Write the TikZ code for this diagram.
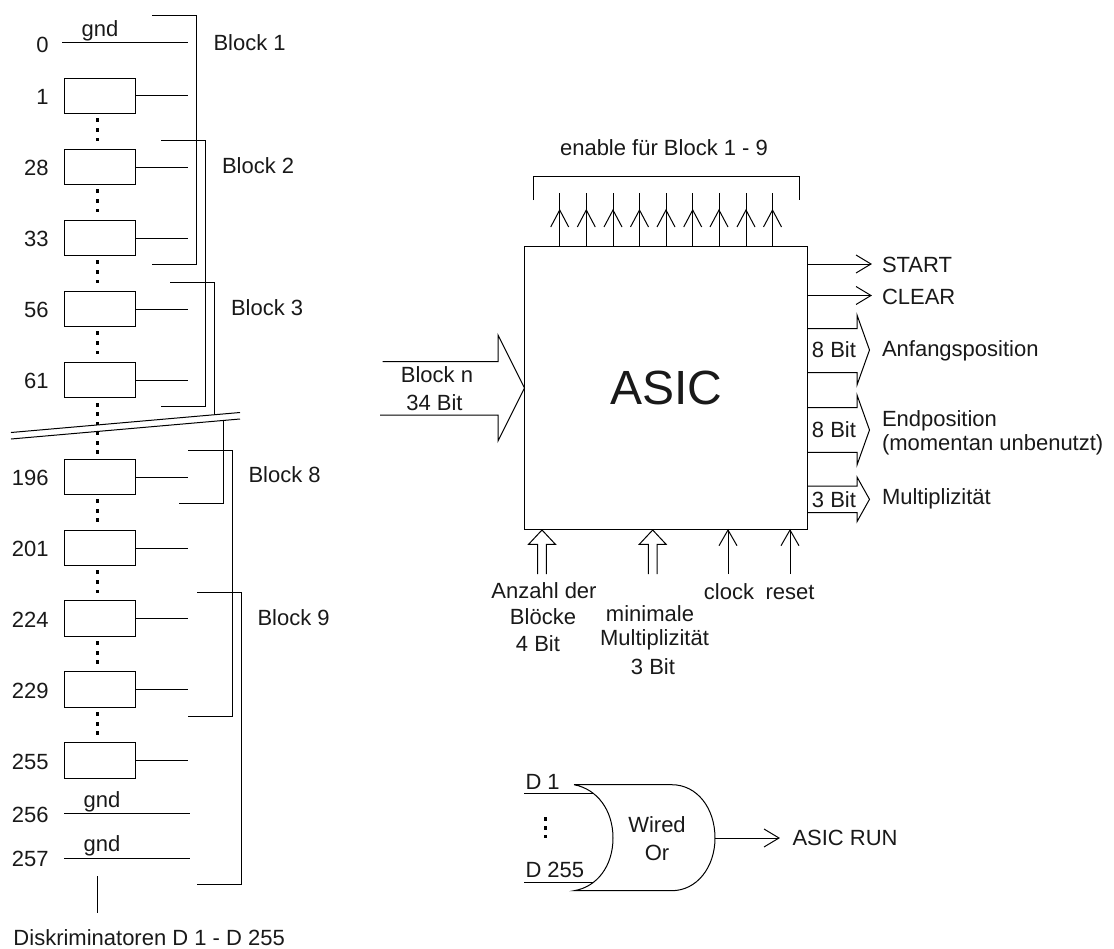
\documentclass[tikz,border=0pt]{standalone}
\usepackage{fontspec}
\setmainfont{Liberation Sans}
\begin{document}
\begin{tikzpicture}[x=0.75pt,y=-0.75pt,line width=0.75pt,
  txt/.style={font=\fontsize{16.5}{19}\selectfont,inner sep=0pt,text=black!90},
  num/.style={txt,anchor=east},
  lab/.style={txt,anchor=west},
  disc/.style={draw,minimum width=53.25pt,minimum height=26.5pt,inner sep=0pt,outer sep=0pt},
  dotm/.style={fill,minimum size=2.6pt,inner sep=0pt,draw=none}]
\useasboundingbox (0,0) rectangle (1114,949);
% ---- discriminator column
\foreach \n/\y in {1/96,28/167,33/238,56/309,61/380,196/477,201/548,224/618.5,229/689.5,255/760.5}{
  \node[disc] (b\n) at (99.5,\y) {};
  \coordinate (s\n) at (188,\y);
  \draw (b\n.east) -- (s\n);
  \node[num] (l\n) at (49,\y+1) {\n};
}
\foreach \y in {120,130,139.5, 191,201,210.5, 262,272,281.5, 333,343,352.5, 405,414,423.5,433.5,443,452, 501,511,520, 572,582,591.5, 643,653,662, 714,724,733}{
  \node[dotm] at (97.5,\y) {};
}
\node[num] (l0) at (49,44.5) {0};
\coordinate (g0a) at (62,43); \coordinate (g0b) at (188,43);
\draw (g0a) -- (g0b);
\node[txt] (g0) at (100,31) {gnd};
\node[num] (l256) at (49,815) {256};
\coordinate (g1a) at (64,813); \coordinate (g1b) at (190,813);
\draw (g1a) -- (g1b);
\node[txt] (g1) at (102,802) {gnd};
\node[num] (l257) at (49,859) {257};
\coordinate (g2a) at (64,858); \coordinate (g2b) at (190,858);
\draw (g2a) -- (g2b);
\node[txt] (g2) at (102,846) {gnd};
\coordinate (v1) at (97,876); \coordinate (v2) at (97,913);
\draw (v1) -- (v2);
\node[txt,anchor=west] (disk) at (13,938) {Diskriminatoren D 1 - D 255};
% brackets
\coordinate (k1a) at (152,16); \coordinate (k1b) at (196.5,16); \coordinate (k1c) at (196.5,264); \coordinate (k1d) at (152,264);
\draw (k1a) -- (k1b) -- (k1c) -- (k1d);
\coordinate (k2a) at (161,140); \coordinate (k2b) at (205.5,140); \coordinate (k2c) at (205.5,406); \coordinate (k2d) at (161,406);
\draw (k2a) -- (k2b) -- (k2c) -- (k2d);
\coordinate (k3a) at (170,282); \coordinate (k3b) at (214,282); \coordinate (k3c) at (214,414.5);
\draw (k3a) -- (k3b) -- (k3c);
\coordinate (k4a) at (223,421); \coordinate (k4b) at (223,503); \coordinate (k4c) at (179,503);
\draw (k4a) -- (k4b) -- (k4c);
\coordinate (k5a) at (188,450); \coordinate (k5b) at (232,450); \coordinate (k5c) at (232,716); \coordinate (k5d) at (188,716);
\draw (k5a) -- (k5b) -- (k5c) -- (k5d);
\coordinate (k6a) at (197,592); \coordinate (k6b) at (241,592); \coordinate (k6c) at (241,884); \coordinate (k6d) at (197,884);
\draw (k6a) -- (k6b) -- (k6c) -- (k6d);
\coordinate (c1a) at (11,432.5); \coordinate (c1b) at (240,412.5);
\coordinate (c2a) at (11,439); \coordinate (c2b) at (240,419);
\draw (c1a) -- (c1b);
\draw (c2a) -- (c2b);
\node[lab] (B1) at (213,43) {Block 1};
\node[lab] (B2) at (221.5,166) {Block 2};
\node[lab] (B3) at (230.5,308) {Block 3};
\node[lab] (B8) at (248,475) {Block 8};
\node[lab] (B9) at (257,618) {Block 9};
% ---- ASIC
\node[draw,minimum width=212.6pt,minimum height=212.6pt,inner sep=0pt,outer sep=0pt,font=\fontsize{36}{40}\selectfont,text=black!90] (asic) at (666.2,388.2) {ASIC};
\node[txt] (en) at (664,148) {enable für Block 1 - 9};
\coordinate (e1) at (533,200); \coordinate (e2) at (533,176); \coordinate (e3) at (799,176); \coordinate (e4) at (799,200);
\draw (e1) -- (e2) -- (e3) -- (e4);
\foreach \i/\x in {1/559.7,2/586.3,3/613,4/639.5,5/666,6/692.7,7/719,8/746,9/772.5}{
  \coordinate (ea\i) at (\x,246.3); \coordinate (eb\i) at (\x,193);
  \draw (ea\i) -- (eb\i);
  \draw (\x-9,227) -- (\x,210) -- (\x+9,227);
}
% right outputs
\foreach \n/\y/\lbl in {st/264/START,cl/295.5/CLEAR}{
  \coordinate (\n a) at (808,\y); \coordinate (\n b) at (871,\y);
  \draw (\n a) -- (\n b);
  \draw (856,\y-9) -- (\n b) -- (856,\y+9);
  \node[lab] (\n t) at (881.5,\y+1) {\lbl};
}
\foreach \n/\yu/\yl/\ya/\ym/\yb/\lbl in {aa/328.5/372.7/315/350/385/8 Bit,ee/407.7/452.3/395/430/465/8 Bit,mm/486/512.7/477/499.3/521.7/3 Bit}{
  \coordinate (\n1) at (808,\yu); \coordinate (\n2) at (857,\yu); \coordinate (\n3) at (857,\ya);
  \coordinate (\n4) at (869.5,\ym); \coordinate (\n5) at (857,\yb); \coordinate (\n6) at (857,\yl); \coordinate (\n7) at (808,\yl);
  \draw (\n1) -- (\n2) -- (\n3) -- (\n4) -- (\n5) -- (\n6) -- (\n7);
  \node[txt] (\n t) at (834,\ym) {\lbl};
}
\node[lab] (ap) at (881.5,351) {Anfangsposition};
\node[lab] (ep) at (881.5,421) {Endposition};
\node[lab] (mo) at (881.5,445) {(momentan unbenutzt)};
\node[lab] (mp) at (881.5,499) {Multiplizität};
% left input
\coordinate (i1) at (382.7,361.7); \coordinate (i2) at (498,361.7); \coordinate (i3) at (498,335);
\coordinate (i4) at (524.5,388); \coordinate (i5) at (498,441); \coordinate (i6) at (498,415); \coordinate (i7) at (380,415);
\draw (i1) -- (i2) -- (i3) -- (i4) -- (i5) -- (i6) -- (i7);
\node[txt] (bn) at (437,375) {Block n};
\node[txt] (bb) at (434.5,403) {34 Bit};
% bottom inputs
\foreach \n/\x in {p/542,q/652.7}{
  \coordinate (\n t) at (\x,530);
  \coordinate (\n a) at (\x-4.3,574); \coordinate (\n b) at (\x-4.3,544.3);
  \coordinate (\n c) at (\x+4.3,544.3); \coordinate (\n d) at (\x+4.3,574);
  \draw (\n a) -- (\n b) -- (\x-13.4,544.3) -- (\n t) -- (\x+13.4,544.3) -- (\n c) -- (\n d);
}
\foreach \n/\x in {ck/728,rs/790}{
  \coordinate (\n a) at (\x,574); \coordinate (\n b) at (\x,530);
  \draw (\n a) -- (\n b);
  \draw (\x-9,545.7) -- (\n b) -- (\x+9,545.7);
}
\node[txt] (t1) at (544,591) {Anzahl der};
\node[txt] (t2) at (543,617) {Blöcke};
\node[txt] (t3) at (538,644) {4 Bit};
\node[txt] (t4) at (650,614) {minimale};
\node[txt] (t5) at (654.5,640) {Multiplizität};
\node[txt] (t6) at (653,667) {3 Bit};
\node[txt] (t7) at (729,592) {clock};
\node[txt] (t8) at (790,592) {reset};
% ---- OR gate
\coordinate (o1) at (574,784.7); \coordinate (o2) at (671.7,784.7); \coordinate (o3) at (715,838);
\coordinate (o4) at (671.7,890.7); \coordinate (o5) at (574,890.7); \coordinate (o6) at (613,838);
\draw (o1) -- (o2) .. controls (697,784.7) and (715,808) .. (o3) .. controls (715,867) and (697,890.7) .. (o4) -- (o5)
  .. controls (597,887) and (613,866) .. (o6) .. controls (613,810) and (597,789) .. (o1);
\coordinate (d1a) at (524,793.5); \coordinate (d1b) at (593,793.5);
\coordinate (d2a) at (524,882); \coordinate (d2b) at (593,882);
\draw (d1a) -- (d1b);
\draw (d2a) -- (d2b);
\node[txt,anchor=west] (d1) at (525,781.5) {D 1};
\node[txt,anchor=west] (d2) at (525,870) {D 255};
\foreach \y in {819,828,836.5}{\node[dotm] at (545.5,\y) {};}
\node[txt] (w1) at (657,825) {Wired};
\node[txt] (w2) at (657,853) {Or};
\coordinate (oe) at (779,838);
\draw (o3) -- (oe);
\draw (764,829) -- (oe) -- (764,847);
\node[lab] (run) at (792,838) {ASIC RUN};
\end{tikzpicture}
\end{document}
